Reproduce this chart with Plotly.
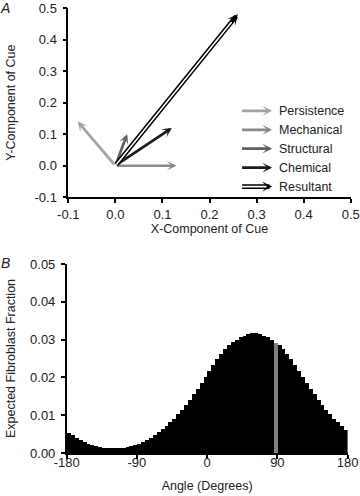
import plotly.graph_objects as go

# ---------------- Panel A data: cue vectors ----------------
cue_names = ["Persistence", "Mechanical", "Structural", "Chemical", "Resultant"]
cue_x = [-0.08, 0.13, 0.025, 0.12, 0.26]
cue_y = [0.14, 0.0, 0.10, 0.12, 0.48]
cue_colors = ["#a3a3a3", "#8a8a8a", "#606060", "#1c1c1c", "#000000"]

a_ticks = [-0.1, 0.0, 0.1, 0.2, 0.3, 0.4, 0.5]
a_ticktext = ["-0.1", "0.0", "0.1", "0.2", "0.3", "0.4", "0.5"]

# ---------------- Panel B data: angle histogram ----------------
bin_width = 5
angle_centers = [-177.5 + bin_width * i for i in range(72)]
fraction = [
    0.0053, 0.0048, 0.0040, 0.0034, 0.0028, 0.0024, 0.0020, 0.0018, 0.0016, 0.0014,
    0.0013, 0.0012, 0.0012, 0.0013, 0.0014, 0.0016, 0.0018, 0.0020, 0.0024, 0.0028,
    0.0034, 0.0040, 0.0048, 0.0055, 0.0063, 0.0071, 0.0081, 0.0091, 0.0102, 0.0114,
    0.0127, 0.0141, 0.0155, 0.0169, 0.0185, 0.0201, 0.0217, 0.0232, 0.0248, 0.0262,
    0.0275, 0.0285, 0.0293, 0.0300, 0.0306, 0.0310, 0.0314, 0.0317, 0.0317, 0.0314,
    0.0310, 0.0306, 0.0300, 0.0292, 0.0285, 0.0275, 0.0262, 0.0248, 0.0232, 0.0217,
    0.0201, 0.0185, 0.0169, 0.0155, 0.0141, 0.0127, 0.0114, 0.0102, 0.0091, 0.0081,
    0.0071, 0.0062,
]
highlight_angle = 87.5

b_xticks = [-180, -90, 0, 90, 180]
b_yticks = [0.0, 0.01, 0.02, 0.03, 0.04, 0.05]
b_yticktext = ["0.00", "0.01", "0.02", "0.03", "0.04", "0.05"]

FONT = "Liberation Sans, Arial, sans-serif"
TXT = "#222222"

fig = go.Figure()

bar_colors = ["#7f7f7f" if a == highlight_angle else "#000000" for a in angle_centers]
fig.add_trace(go.Bar(
    x=angle_centers, y=fraction, width=bin_width,
    marker=dict(color=bar_colors, line=dict(width=0)),
    xaxis="x2", yaxis="y2", showlegend=False, hoverinfo="x+y",
))
fig.add_trace(go.Scatter(x=[0], y=[0], mode="markers", marker=dict(opacity=0),
                         xaxis="x", yaxis="y", showlegend=False, hoverinfo="skip"))

HEAD_N, W_N = 0.6, 2.7
HEAD_R, W_R = 0.37, 4.6

ann = []
for name, vx, vy, col in zip(cue_names, cue_x, cue_y, cue_colors):
    if name == "Resultant":
        ann.append(dict(x=vx, y=vy, ax=0, ay=0, xref="x", yref="y", axref="x", ayref="y",
                        text="", showarrow=True, arrowhead=3, arrowsize=HEAD_R,
                        arrowwidth=W_R, arrowcolor=col))
        ann.append(dict(x=vx * 0.95, y=vy * 0.95, ax=0, ay=0, xref="x", yref="y",
                        axref="x", ayref="y", text="", showarrow=True, arrowhead=0,
                        arrowwidth=1.6, arrowcolor="white"))
    else:
        ann.append(dict(x=vx, y=vy, ax=0, ay=0, xref="x", yref="y", axref="x", ayref="y",
                        text="", showarrow=True, arrowhead=3, arrowsize=HEAD_N,
                        arrowwidth=W_N, arrowcolor=col))

# legend drawn manually as arrows + labels
leg_x0, leg_x1, leg_tx = 0.266, 0.333, 0.343
leg_y0, leg_dy = 0.174, 0.06
for i, (name, col) in enumerate(zip(cue_names, cue_colors)):
    ly = leg_y0 - i * leg_dy
    if name == "Resultant":
        ann.append(dict(x=leg_x1, y=ly, ax=leg_x0, ay=ly, xref="x", yref="y", axref="x",
                        ayref="y", text="", showarrow=True, arrowhead=3, arrowsize=HEAD_R,
                        arrowwidth=W_R, arrowcolor=col))
        ann.append(dict(x=leg_x1 - 0.012, y=ly, ax=leg_x0, ay=ly, xref="x", yref="y",
                        axref="x", ayref="y", text="", showarrow=True, arrowhead=0,
                        arrowwidth=1.6, arrowcolor="white"))
    else:
        ann.append(dict(x=leg_x1, y=ly, ax=leg_x0, ay=ly, xref="x", yref="y", axref="x",
                        ayref="y", text="", showarrow=True, arrowhead=3, arrowsize=HEAD_N,
                        arrowwidth=W_N, arrowcolor=col))
    ann.append(dict(x=leg_tx, y=ly, xref="x", yref="y", text=name, showarrow=False,
                    xanchor="left", yanchor="middle",
                    font=dict(family=FONT, size=12.5, color=TXT)))

# panel letters
ann.append(dict(x=-0.215, y=1.0, xref="paper", yref="paper", text="<i>A</i>",
                showarrow=False, xanchor="center", yanchor="middle",
                font=dict(family=FONT, size=14, color=TXT)))
ann.append(dict(x=-0.212, y=0.428, xref="paper", yref="paper", text="<i>B</i>",
                showarrow=False, xanchor="center", yanchor="middle",
                font=dict(family=FONT, size=14, color=TXT)))

axis_common = dict(showline=True, linecolor="black", linewidth=1.5, ticks="outside",
                   ticklen=4, tickwidth=1.5, tickcolor="black", showgrid=False,
                   zeroline=False, automargin=False,
                   tickfont=dict(family=FONT, size=13, color=TXT),
                   title_font=dict(family=FONT, size=12.5, color=TXT))

fig.update_layout(
    width=360, height=496,
    margin=dict(l=66, r=9, t=8, b=43),
    paper_bgcolor="white", plot_bgcolor="white",
    bargap=0, showlegend=False,
    annotations=ann,
    xaxis=dict(domain=[0.008, 0.999], range=[-0.1, 0.5], anchor="y",
               tickvals=a_ticks, ticktext=a_ticktext,
               title=dict(text="X-Component of Cue", standoff=3), **axis_common),
    yaxis=dict(domain=[0.5746, 1.0], range=[-0.1, 0.5], anchor="x",
               tickvals=a_ticks, ticktext=a_ticktext, ticklabelstandoff=3,
               title=dict(text="Y-Component of Cue", standoff=16), **axis_common),
    xaxis2=dict(domain=[0.0025, 0.988], range=[-180, 180], anchor="y2",
                tickvals=b_xticks, ticktext=[str(v) for v in b_xticks],
                ticklabelstandoff=-7,
                title=dict(text="Angle (Degrees)", standoff=12), **axis_common),
    yaxis2=dict(domain=[0.0, 0.4247], range=[0, 0.05], anchor="x2",
                tickvals=b_yticks, ticktext=b_yticktext, ticklabelstandoff=3,
                title=dict(text="Expected Fibroblast Fraction", standoff=12), **axis_common),
)

fig.write_html("out.html", config={"displayModeBar": False},
               post_script="document.body.style.margin='0px';document.body.style.overflow='hidden';")
